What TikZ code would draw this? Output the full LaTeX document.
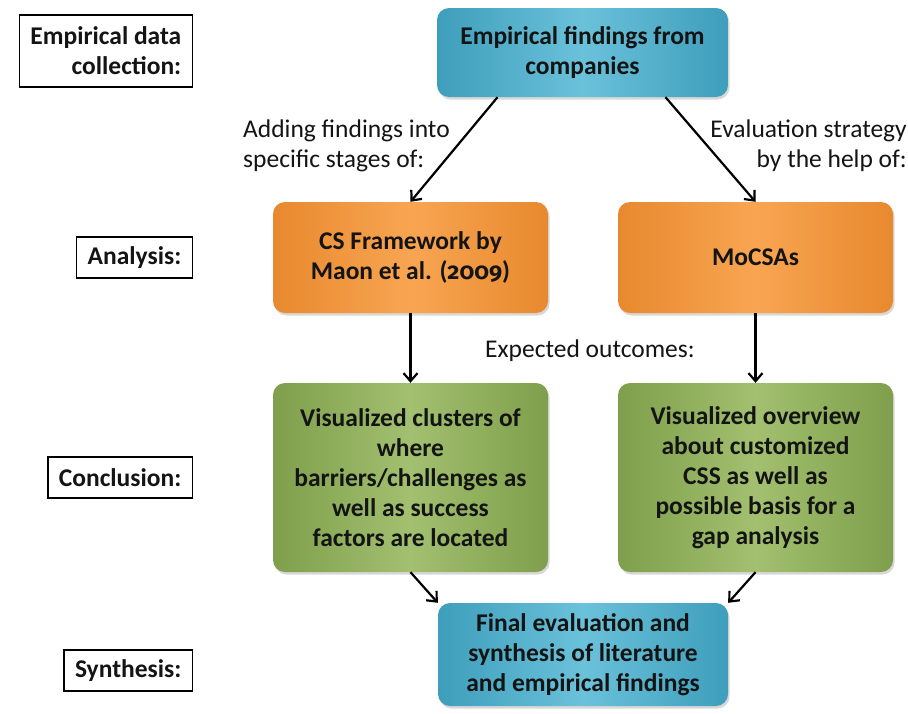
\documentclass[tikz,border=0pt]{standalone}
\usepackage{fontspec}
\setmainfont{Carlito}
\newfontfamily\osfigures{Fira Sans}[Numbers=OldStyle, Scale=0.92]
\usetikzlibrary{arrows.meta,shadows}

\definecolor{aquaEdge}{HTML}{3E9EBB}
\definecolor{aquaMid}{HTML}{6AC1DA}
\definecolor{orangeEdge}{HTML}{E8892E}
\definecolor{orangeMid}{HTML}{F8A552}
\definecolor{greenEdge}{HTML}{7F9F4C}
\definecolor{greenMid}{HTML}{A2C06F}
\definecolor{ink}{HTML}{141414}

\tikzset{
  flowbox/.style={rounded corners=12pt, align=center, text=ink,
    font=\bfseries\fontsize{25.5}{30}\selectfont,
    drop shadow={shadow xshift=1.5pt, shadow yshift=-2.5pt, opacity=0.3}},
  bluebox/.style={flowbox, left color=aquaEdge, right color=aquaEdge, middle color=aquaMid},
  orangebox/.style={flowbox, minimum width=275pt, minimum height=111pt,
    left color=orangeEdge, right color=orangeEdge, middle color=orangeMid},
  greenbox/.style={flowbox, minimum width=275pt, minimum height=189pt,
    left color=greenEdge, right color=greenEdge, middle color=greenMid},
  stagebox/.style={draw=black, line width=1.5pt, fill=white, text=ink, anchor=east,
    align=right, inner xsep=11pt, inner ysep=0pt,
    font=\bfseries\fontsize{25.5}{30}\selectfont},
  note/.style={inner sep=0pt, text=ink, font=\fontsize{25.5}{30}\selectfont},
  flow/.style={draw=black, line width=2.2pt,
    -{Straight Barb[length=8pt, width=14pt, line width=2.2pt]}}
}

\begin{document}
\begin{tikzpicture}[x=1pt, y=-1pt]
\useasboundingbox[fill=white] (0,0) rectangle (908,713);

% stage labels on the left
\node[stagebox, minimum height=72pt] (s1) at (193,51) {Empirical data\\collection:};
\node[stagebox, minimum height=41pt] (s2) at (193,257.5) {Analysis:};
\node[stagebox, minimum height=41pt] (s3) at (193,477.5) {Conclusion:};
\node[stagebox, minimum height=41pt] (s4) at (193,670.5) {Synthesis:};

% process boxes
\node[bluebox, minimum width=291pt, minimum height=89pt]
  (emp) at (582.5,52.5) {Empirical findings from\\companies};
\node[orangebox] (csf) at (410.5,257.5)
  {CS Framework by\\Maon et al. ({\osfigures\bfseries 2009})};
\node[orangebox] (moc) at (755.5,257.5) {MoCSAs};
\node[greenbox] (vcl) at (410.5,477.5)
  {Visualized clusters of\\where\\barriers/challenges as\\well as success\\factors are located};
\node[greenbox] (vov) at (755.5,477.5)
  {Visualized overview\\about customized\\CSS as well as\\possible basis for a\\gap analysis};
\node[bluebox, minimum width=290pt, minimum height=103pt]
  (fin) at (583,654.5) {Final evaluation and\\synthesis of literature\\and empirical findings};

% free-standing annotations
\node[note, anchor=north west, align=left] (addf) at (243,120)
  {Adding findings into\\specific stages of:};
\node[note, anchor=north east, align=right] (evst) at (907,120)
  {Evaluation strategy\\by the help of:};
\node[note, anchor=base west] (expo) at (485,357) {Expected outcomes:};

% connectors
\draw[flow] ([xshift=-85pt]emp.south) -- (csf.north);
\draw[flow] ([xshift=83pt]emp.south) -- (moc.north);
\draw[flow] (csf.south) -- (vcl.north);
\draw[flow] (moc.south) -- (vov.north);
\draw[flow] (vcl.south) -- (fin.north west);
\draw[flow] (vov.south) -- (fin.north east);
\end{tikzpicture}
\end{document}
